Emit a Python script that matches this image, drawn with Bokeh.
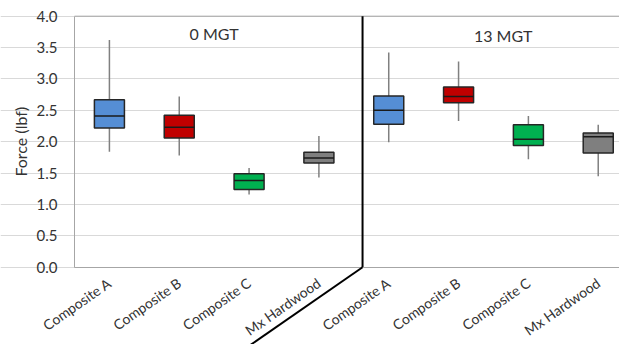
import math
from bokeh.plotting import figure
from bokeh.models import FixedTicker, Arrow, ColumnDataSource, CustomJSTickFormatter
from bokeh.core.properties import value
from bokeh.embed import file_html
from bokeh.resources import INLINE

# ---- data ----
groups = ["0 MGT", "13 MGT"]
categories = ["Composite A", "Composite B", "Composite C", "Mx Hardwood",
              "Composite A", "Composite B", "Composite C", "Mx Hardwood"]
whisker_low = [1.84, 1.78, 1.16, 1.43, 1.99, 2.33, 1.72, 1.45]
q1 = [2.22, 2.06, 1.24, 1.66, 2.28, 2.62, 1.94, 1.82]
median = [2.41, 2.23, 1.38, 1.74, 2.50, 2.72, 2.04, 2.08]
q3 = [2.67, 2.42, 1.49, 1.83, 2.73, 2.87, 2.27, 2.14]
whisker_high = [3.62, 2.72, 1.58, 2.09, 3.42, 3.28, 2.41, 2.27]
fills = ["#558ED5", "#C00000", "#00B050", "#7F7F7F"] * 2
y_ticks = [0.0, 0.5, 1.0, 1.5, 2.0, 2.5, 3.0, 3.5, 4.0]
y_title = "Force (lbf)"

FONT = "Lato"
TXT = "#333333"
BORDER = "#A6A6A6"

# ---- geometry (pixels of the figure) ----
W, H = 619, 344
PX_X0, PX_SLOT = 74.0, 69.83      # pixel of x=0, pixels per category slot
PX_Y0, PX_UNIT = 266.7, 62.75     # pixel of y=0, pixels per unit of force
x_start = -PX_X0 / PX_SLOT
x_end = (W - PX_X0) / PX_SLOT
y_start = -(H - PX_Y0) / PX_UNIT
y_end = 4.0 + (PX_Y0 - 4.0 * PX_UNIT) / PX_UNIT

xs = [i + 0.5 for i in range(len(categories))]
bw = 0.43
src = ColumnDataSource(dict(
    x=xs, lo=whisker_low, q1=q1, med=median, q3=q3, hi=whisker_high,
    fill=fills, left=[x - bw / 2 for x in xs], right=[x + bw / 2 for x in xs],
))

p = figure(width=W, height=H, x_range=(x_start, x_end), y_range=(y_start, y_end),
           output_backend="svg", toolbar_location=None,
           min_border_left=0, min_border_right=0, min_border_top=0,
           min_border_bottom=0)
p.outline_line_color = None
p.background_fill_color = "white"
p.border_fill_color = "white"

# grid
p.xgrid.grid_line_color = None
p.ygrid.grid_line_color = "#D9D9D9"
p.ygrid.ticker = FixedTicker(ticks=y_ticks)
p.ygrid.bounds = (0, x_end)

# y axis (drawn at x = 0)
p.yaxis.fixed_location = 0
p.yaxis.bounds = (0, 4.0)
p.yaxis.ticker = FixedTicker(ticks=y_ticks)
p.yaxis.formatter = CustomJSTickFormatter(code="return tick.toFixed(1);")
p.yaxis.major_label_text_font = FONT
p.yaxis.major_label_text_font_size = "15px"
p.yaxis.major_label_text_color = TXT
p.yaxis.major_label_standoff = 17
p.yaxis.major_tick_out = 0
p.yaxis.major_tick_in = 0
p.yaxis.minor_tick_out = 0
p.yaxis.minor_tick_in = 0
p.yaxis.axis_line_color = BORDER

# x axis (drawn at y = 0)
p.xaxis.fixed_location = 0
p.xaxis.bounds = (0, x_end)
p.xaxis.ticker = FixedTicker(ticks=xs)
p.xaxis.major_label_overrides = {x: c for x, c in zip(xs, categories)}
p.xaxis.major_label_orientation = math.radians(35)
p.xaxis.major_label_text_font = FONT
p.xaxis.major_label_text_font_size = "14px"
p.xaxis.major_label_text_color = TXT
p.xaxis.major_label_standoff = 14
p.xaxis.major_tick_out = 0
p.xaxis.major_tick_in = 0
p.xaxis.minor_tick_out = 0
p.xaxis.minor_tick_in = 0
p.xaxis.axis_line_color = BORDER

# top border of the plot area
p.segment(x0=[0], y0=[4.0], x1=[x_end], y1=[4.0], line_color=BORDER, line_width=1)

# y axis title
p.text(x=[-0.78], y=[2.0], text=[y_title], angle=math.pi / 2, text_align="center",
       text_baseline="middle", text_font=value(FONT), text_font_size="16px",
       text_color=TXT)

# whiskers
p.segment(x0="x", y0="q3", x1="x", y1="hi", source=src, line_color="#808080", line_width=1.5)
p.segment(x0="x", y0="lo", x1="x", y1="q1", source=src, line_color="#808080", line_width=1.5)
# boxes
p.quad(left="left", right="right", bottom="q1", top="q3", source=src,
       fill_color="fill", line_color="#262626", line_width=1.5)
# medians
p.segment(x0="left", y0="med", x1="right", y1="med", source=src, line_color="#1A1A1A", line_width=1.5)

# group separator
sep_x = 4.125
p.segment(x0=[sep_x], y0=[0], x1=[sep_x], y1=[4.0], line_color="black", line_width=2)
p.add_layout(Arrow(end=None, x_start=sep_x, y_start=0, x_end=2.363, y_end=-1.36,
                   line_color="black", line_width=2))

# group labels
p.text(x=[2.0, 6.14], y=[3.72, 3.69], text=groups, text_align="center",
       text_baseline="middle", text_font=value(FONT), text_font_size="16px",
       text_color=TXT)

open("out.html", "w").write(file_html(p, INLINE))
